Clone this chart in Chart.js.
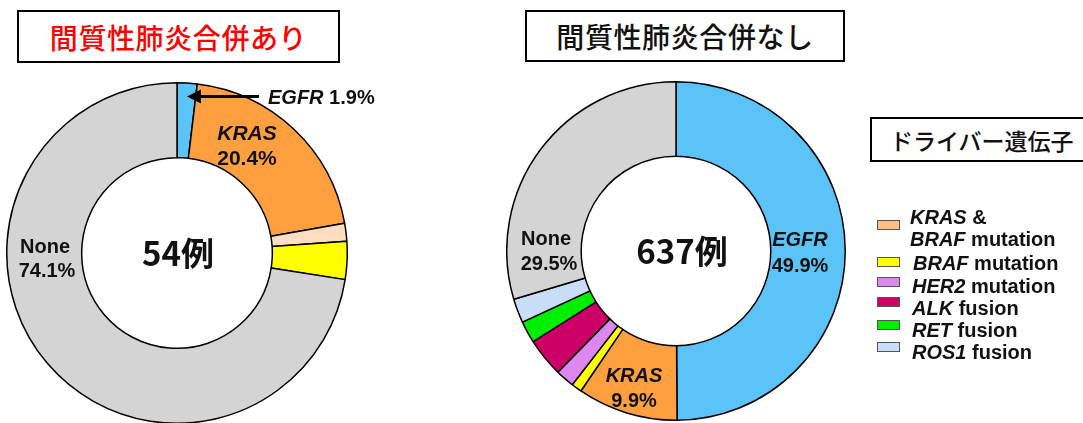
<!DOCTYPE html>
<html>
<head>
<meta charset="utf-8">
<script src="https://cdn.jsdelivr.net/npm/chart.js@4.4.1/dist/chart.umd.min.js"></script>
<style>
  html, body { margin:0; padding:0; background:#fff; width:1083px; height:423px; overflow:hidden; position:relative; }
  .abs { position:absolute; }
  .title { position:absolute; box-sizing:border-box; border:2.5px solid #000; background:#fff;
           font-family:"Noto Sans CJK JP", sans-serif; font-weight:500; font-size:28px;
           display:flex; align-items:center; justify-content:center; letter-spacing:0.6px; }
  .lbl { position:absolute; font-family:"Liberation Sans", Arial, sans-serif; font-weight:bold; font-size:20px;
         color:#111; transform:translate(-50%,-50%); white-space:nowrap; line-height:1; }
  .lblL { position:absolute; font-family:"Liberation Sans", Arial, sans-serif; font-weight:bold; font-size:20px;
         color:#111; transform:translate(0,-50%); white-space:nowrap; line-height:1; }
  i { font-style:italic; }
  .center { position:absolute; font-family:"Noto Sans CJK JP", sans-serif; font-weight:bold; font-size:33px;
            color:#111; transform:translate(-50%,-50%); white-space:nowrap; line-height:1; }
  .sw { position:absolute; width:23px; height:10px; box-sizing:border-box; border:1px solid #555; }
</style>
</head>
<body>
<script>
// ---- data ----
const leftLabels  = ['EGFR', 'KRAS', 'KRAS & BRAF', 'BRAF', 'None'];
const leftValues  = [1.9, 20.3, 1.7, 3.6, 72.5];
const leftColors  = ['#5BC3F8', '#FFA040', '#FFDDC0', '#FFFF00', '#D4D4D4'];

const rightLabels = ['EGFR', 'KRAS', 'BRAF', 'HER2', 'ALK', 'RET', 'ROS1', 'None'];
const rightValues = [49.9, 9.6, 1.0, 1.8, 3.7, 2.1, 2.3, 29.6];
const rightColors = ['#5BC3F8', '#FFA040', '#FFFF00', '#DD88F0', '#CC0066', '#00EE00', '#C8DDF6', '#D4D4D4'];

const legendGenes  = ['KRAS', 'BRAF', 'HER2', 'ALK', 'RET', 'ROS1'];
const legendKinds  = ['mutation', 'mutation', 'mutation', 'fusion', 'fusion', 'fusion'];
const legendColors = ['#FFC088', '#FFFF00', '#DD88F0', '#CC0066', '#00EE00', '#C8DDF6'];
</script>

<div class="title" style="left:17px;top:10px;width:323px;height:53px;color:#FF0000;">間質性肺炎合併あり</div>
<div class="title" style="left:525px;top:10px;width:320px;height:52px;color:#111;">間質性肺炎合併なし</div>
<div class="title" style="left:870px;top:117px;width:230px;height:45px;font-size:23px;letter-spacing:0;justify-content:flex-start;padding-left:18px;color:#111;">ドライバー遺伝子</div>

<div class="abs" style="left:6px;top:82px;width:342px;height:342px;"><canvas id="cL"></canvas></div>
<div class="abs" style="left:506px;top:81px;width:340px;height:340px;"><canvas id="cR"></canvas></div>

<svg class="abs" style="left:0;top:0;" width="1083" height="423">
  <line x1="259" y1="96.5" x2="197" y2="96.5" stroke="#000" stroke-width="3"/>
  <polygon points="187,96.5 201,89.5 201,103.5" fill="#000"/>
</svg>

<!-- left donut labels -->
<div class="lblL" style="left:268px;top:97px;"><i>EGFR</i> 1.9%</div>
<div class="lbl" style="left:247px;top:132px;font-size:21px;"><i>KRAS</i></div>
<div class="lbl" style="left:247px;top:157px;font-size:21px;">20.4%</div>
<div class="lbl" style="left:45px;top:246px;">None</div>
<div class="lbl" style="left:47px;top:270px;">74.1%</div>
<div class="center" style="left:178px;top:252px;">54例</div>

<!-- right donut labels -->
<div class="lbl" style="left:800px;top:239px;"><i>EGFR</i></div>
<div class="lbl" style="left:800px;top:265px;">49.9%</div>
<div class="lbl" style="left:546px;top:238px;">None</div>
<div class="lbl" style="left:549px;top:263px;">29.5%</div>
<div class="lbl" style="left:634px;top:375px;"><i>KRAS</i></div>
<div class="lbl" style="left:634px;top:400px;">9.9%</div>
<div class="center" style="left:682px;top:250px;">637例</div>

<div id="legend"></div>

<script>
// legend
(function(){
  const lg = document.getElementById('legend');
  const swTop = [220, 257, 277, 297, 320, 342];
  const txtY  = [null, 263, 286, 308, 330, 352];
  const txtX  = [910, 913, 912, 912, 912, 912];
  legendGenes.forEach((g, i) => {
    const sw = document.createElement('div');
    sw.className = 'sw';
    sw.style.left = '877px';
    sw.style.top = swTop[i] + 'px';
    sw.style.background = legendColors[i];
    lg.appendChild(sw);
    if (i === 0) {
      const a = document.createElement('div');
      a.className = 'lblL'; a.style.left = txtX[i] + 'px'; a.style.top = '217px';
      a.innerHTML = '<i>KRAS</i> &amp;';
      lg.appendChild(a);
      const b = document.createElement('div');
      b.className = 'lblL'; b.style.left = txtX[i] + 'px'; b.style.top = '239px';
      b.innerHTML = '<i>BRAF</i> ' + legendKinds[i];
      lg.appendChild(b);
    } else {
      const t = document.createElement('div');
      t.className = 'lblL'; t.style.left = txtX[i] + 'px'; t.style.top = txtY[i] + 'px';
      t.innerHTML = '<i>' + g + '</i> ' + legendKinds[i];
      lg.appendChild(t);
    }
  });
})();

function donut(id, labels, values, colors) {
  return new Chart(document.getElementById(id), {
    type: 'doughnut',
    data: { labels: labels, datasets: [{ data: values, backgroundColor: colors,
            borderColor: '#000', borderWidth: 1.5 }] },
    options: {
      responsive: true, maintainAspectRatio: false, animation: false,
      cutout: '56%', rotation: 0,
      layout: { padding: 0 },
      plugins: { legend: { display: false }, tooltip: { enabled: false } }
    }
  });
}
donut('cL', leftLabels, leftValues, leftColors);
donut('cR', rightLabels, rightValues, rightColors);
</script>
</body>
</html>
